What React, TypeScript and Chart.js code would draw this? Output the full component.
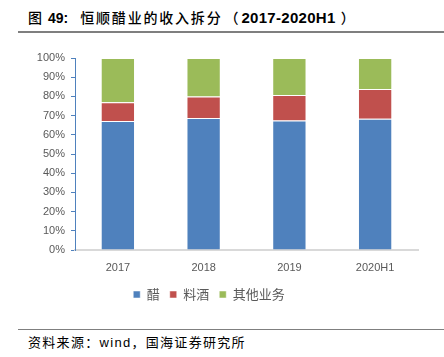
import React, { useEffect, useRef } from "react";
import { Chart, registerables } from "chart.js";

Chart.register(...registerables);

const categories = ["2017", "2018", "2019", "2020H1"];
const vinegar = [67.2, 68.8, 67.4, 68.4];
const cookingWine = [9.8, 11.2, 13.3, 15.5];
const others = [23.0, 20.0, 19.3, 16.1];
const seriesNames = ["醋", "料酒", "其他业务"];
const yTicks = [0, 10, 20, 30, 40, 50, 60, 70, 80, 90, 100];

const FONT = "'Liberation Sans', Arial, sans-serif";
const CJK = "'Noto Sans CJK SC', sans-serif";

export default function App() {
  const ref = useRef<HTMLCanvasElement | null>(null);

  useEffect(() => {
    document.body.style.margin = "0";
    const ctx = ref.current!;
    const ds = (label: string, data: number[], color: string) => ({
      label,
      data,
      backgroundColor: color,
      borderColor: "rgba(255,255,255,0.5)",
      borderWidth: 1,
      categoryPercentage: 0.8,
      barPercentage: 0.5,
    });
    const chart = new Chart(ctx, {
      type: "bar",
      data: {
        labels: categories,
        datasets: [
          ds(seriesNames[0], vinegar, "#4F81BD"),
          ds(seriesNames[1], cookingWine, "#C0504D"),
          ds(seriesNames[2], others, "#9BBB59"),
        ],
      },
      options: {
        responsive: false,
        animation: false,
        layout: { padding: { top: 18, right: 26, left: 0, bottom: 0 } },
        plugins: {
          tooltip: { enabled: false },
          legend: {
            position: "bottom",
            labels: {
              boxWidth: 7,
              boxHeight: 7,
              padding: 10,
              color: "#595959",
              font: { family: CJK, size: 13 },
            },
          },
        },
        scales: {
          x: {
            stacked: true,
            afterFit: (s: any) => { s.height = 28; },
            grid: { display: false },
            border: { color: "#D9D9D9", width: 2 },
            ticks: { color: "#595959", font: { family: FONT, size: 11 }, padding: 3 },
          },
          y: {
            stacked: true,
            min: 0,
            max: 100,
            afterFit: (s: any) => { s.width = 75; },
            afterBuildTicks: (s: any) => { s.ticks = yTicks.map((v) => ({ value: v })); },
            grid: { drawOnChartArea: false, color: "#4F81BD", tickLength: 4 },
            border: { color: "#4F81BD", width: 1 },
            ticks: {
              color: "#595959",
              font: { family: FONT, size: 11 },
              padding: 6,
              callback: (v: any) => v + "%",
            },
          },
        },
      },
    });
    return () => chart.destroy();
  }, []);

  return (
    <div style={{ position: "relative", width: 444, height: 357, background: "#fff", overflow: "hidden" }}>
      <div style={{ position: "absolute", left: 28, top: 7, color: "#000", whiteSpace: "nowrap", lineHeight: "20px", fontSize: 14 }}>
        <span style={{ fontFamily: CJK, fontWeight: 500 }}>图</span>
        <span style={{ fontFamily: FONT, fontWeight: 700, marginLeft: 6 }}>49:</span>
        <span style={{ fontFamily: CJK, fontWeight: 500, marginLeft: 12, letterSpacing: 1.8 }}>恒顺醋业的收入拆分</span>
        <span style={{ fontFamily: CJK, fontWeight: 500, marginLeft: 2 }}>（</span>
        <span style={{ fontFamily: FONT, fontWeight: 700, fontSize: 15, marginLeft: 3, letterSpacing: 0.3 }}>2017-2020H1</span>
        <span style={{ fontFamily: CJK, fontWeight: 500, marginLeft: 5 }}>）</span>
      </div>
      <div style={{ position: "absolute", left: 18, top: 31, width: 426, height: 1.5, background: "#7F7F7F" }} />
      <canvas ref={ref} width={444} height={271} style={{ position: "absolute", left: 0, top: 40 }} />
      <div style={{ position: "absolute", left: 18, top: 329, width: 426, height: 1, background: "#7F7F7F" }} />
      <div style={{ position: "absolute", left: 28, top: 333, fontFamily: CJK, fontSize: 13, letterSpacing: 1.3, color: "#000", whiteSpace: "nowrap", lineHeight: "18px" }}>
        资料来源：<span style={{ fontFamily: FONT }}>wind</span>，国海证券研究所
      </div>
    </div>
  );
}
